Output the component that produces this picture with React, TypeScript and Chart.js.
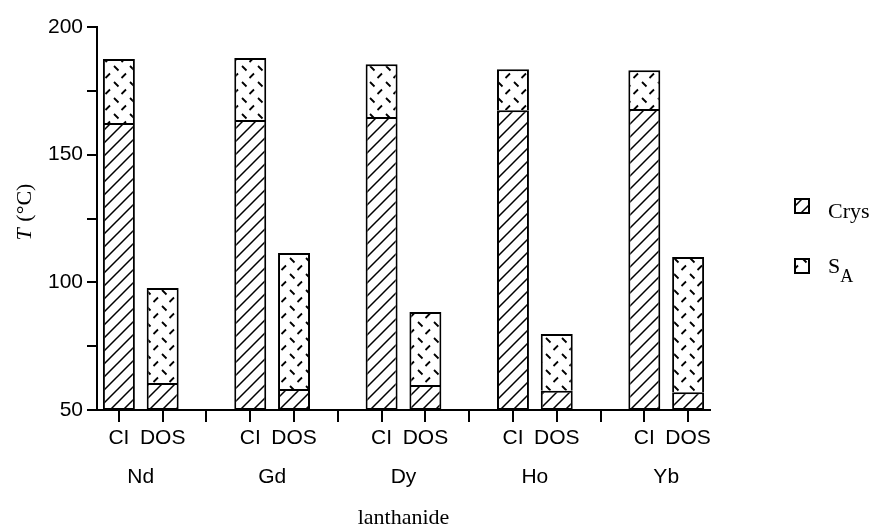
import React, { useEffect, useRef } from 'react';
import { Chart, registerables } from 'chart.js';

Chart.register(...registerables);

// ---- data ----
const lanthanides = ['Nd', 'Gd', 'Dy', 'Ho', 'Yb'];
const methods = ['CI', 'DOS'];
// top of the crystalline (hatched) segment = Crys -> SA transition, °C
const crysCI = [162.4, 163.6, 164.8, 167.4, 167.9];
const crysDOS = [60.6, 58.2, 59.8, 57.5, 57.0];
// top of the smectic A (dashed) segment = clearing point, °C
const saCI = [187.5, 187.9, 185.4, 183.5, 183.1];
const saDOS = [97.8, 111.5, 88.4, 79.8, 109.9];
const yMin = 50;
const yMax = 200;
const yStep = 25;
const yLabelled = [50, 100, 150, 200];
const xTitle = 'lanthanide';

// build the slot layout: CI, DOS, (gap) per lanthanide
const slotLabels: string[] = [];
const crysData: ([number, number] | null)[] = [];
const saData: ([number, number] | null)[] = [];
const groupStart: number[] = [];
lanthanides.forEach((_, i) => {
  groupStart.push(slotLabels.length);
  methods.forEach((m, j) => {
    const c = j === 0 ? crysCI[i] : crysDOS[i];
    const s = j === 0 ? saCI[i] : saDOS[i];
    slotLabels.push(m);
    crysData.push([yMin, c]);
    saData.push([c, s]);
  });
  if (i < lanthanides.length - 1) {
    slotLabels.push('');
    crysData.push(null);
    saData.push(null);
  }
});

function makeHatch(): CanvasPattern | string {
  const c = document.createElement('canvas');
  const n = 13;
  c.width = n;
  c.height = n;
  const g = c.getContext('2d');
  if (!g) return '#fff';
  g.fillStyle = '#fff';
  g.fillRect(0, 0, n, n);
  g.strokeStyle = '#000';
  g.lineWidth = 1.5;
  g.beginPath();
  g.moveTo(-1, n + 1);
  g.lineTo(n + 1, -1);
  g.moveTo(-1, 1);
  g.lineTo(1, -1);
  g.moveTo(n - 1, n + 1);
  g.lineTo(n + 1, n - 1);
  g.stroke();
  return g.createPattern(c, 'repeat') || '#fff';
}

function makeDashes(): CanvasPattern | string {
  const c = document.createElement('canvas');
  const w = 16;
  const h = 16;
  c.width = w;
  c.height = h;
  const g = c.getContext('2d');
  if (!g) return '#fff';
  g.fillStyle = '#fff';
  g.fillRect(0, 0, w, h);
  g.strokeStyle = '#000';
  g.lineWidth = 1.8;
  g.lineCap = 'butt';
  g.beginPath();
  // "\" dash
  g.moveTo(2, 2);
  g.lineTo(6.5, 6.5);
  // "/" dash
  g.moveTo(9.5, 14);
  g.lineTo(14, 9.5);
  g.stroke();
  return g.createPattern(c, 'repeat') || '#fff';
}

const SANS = '"Liberation Sans", Arial, sans-serif';
const SERIF = '"Liberation Serif", "Times New Roman", serif';

export default function App() {
  const ref = useRef<HTMLCanvasElement | null>(null);

  useEffect(() => {
    document.body.style.margin = '0';
    const canvas = ref.current;
    if (!canvas) return;
    const hatch = makeHatch();
    const dashes = makeDashes();

    const textPlugin = {
      id: 'customText',
      afterDraw(chart: any) {
        const { ctx, chartArea, scales } = chart;
        const x = scales.x;
        ctx.save();
        ctx.fillStyle = '#000';
        // group names
        ctx.font = `21px ${SANS}`;
        ctx.textAlign = 'center';
        ctx.textBaseline = 'middle';
        lanthanides.forEach((name, i) => {
          const a = x.getPixelForValue(groupStart[i]);
          const b = x.getPixelForValue(groupStart[i] + 1);
          ctx.fillText(name, (a + b) / 2, chartArea.bottom + 67);
        });
        // x title
        ctx.font = `22px ${SERIF}`;
        ctx.fillText(xTitle, (chartArea.left + chartArea.right) / 2, chartArea.bottom + 108);

        // y title: italic T + (°C)
        ctx.save();
        ctx.translate(31, (chartArea.top + chartArea.bottom) / 2 - 6);
        ctx.rotate(-Math.PI / 2);
        ctx.textAlign = 'left';
        ctx.textBaseline = 'alphabetic';
        const fIt = `italic 22px ${SERIF}`;
        const fRe = `22px ${SERIF}`;
        ctx.font = fIt;
        const wT = ctx.measureText('T').width;
        ctx.font = fRe;
        const rest = ' (\u00B0C)';
        const wR = ctx.measureText(rest).width;
        const start = -(wT + wR) / 2;
        ctx.font = fIt;
        ctx.fillText('T', start, 0);
        ctx.font = fRe;
        ctx.fillText(rest, start + wT + 1, 0);
        ctx.restore();

        // legend
        const lx = chartArea.right + 85;
        const items = [
          { fill: hatch, y: 206, main: 'Crys', sub: '', base: 12 },
          { fill: dashes, y: 266, main: 'S', sub: 'A', base: 7 },
        ];
        items.forEach((it) => {
          const s = 14;
          ctx.fillStyle = it.fill as any;
          ctx.fillRect(lx, it.y - s / 2, s, s);
          ctx.strokeStyle = '#000';
          ctx.lineWidth = 2;
          ctx.strokeRect(lx, it.y - s / 2, s, s);
          ctx.fillStyle = '#000';
          ctx.textAlign = 'left';
          ctx.textBaseline = 'alphabetic';
          ctx.font = `22px ${SERIF}`;
          ctx.fillText(it.main, lx + 33, it.y + it.base);
          if (it.sub) {
            const w = ctx.measureText(it.main).width;
            ctx.font = `18px ${SERIF}`;
            ctx.fillText(it.sub, lx + 33 + w, it.y + it.base + 9);
          }
        });
        ctx.restore();
      },
    };

    const chart = new Chart(canvas, {
      type: 'bar',
      data: {
        labels: slotLabels,
        datasets: [
          {
            label: 'Crys',
            data: crysData as any,
            backgroundColor: hatch as any,
            borderColor: '#000',
            borderWidth: 2,
            borderSkipped: false,
          },
          {
            label: 'SA',
            data: saData as any,
            backgroundColor: dashes as any,
            borderColor: '#000',
            borderWidth: { top: 2, left: 2, right: 2, bottom: 0 } as any,
            borderSkipped: false,
          },
        ],
      },
      options: {
        animation: false,
        responsive: false,
        maintainAspectRatio: false,
        events: [],
        layout: { padding: { top: 27, right: 165, bottom: 0, left: 0 } },
        datasets: {
          bar: { grouped: false, barPercentage: 0.73, categoryPercentage: 1 },
        } as any,
        plugins: {
          legend: { display: false },
          tooltip: { enabled: false },
          title: { display: false },
        },
        scales: {
          x: {
            type: 'category',
            offset: true,
            grid: {
              display: true,
              offset: false,
              drawOnChartArea: false,
              drawTicks: true,
              tickLength: 12,
              color: '#000',
              lineWidth: 2,
            },
            border: { display: true, color: '#000', width: 2 },
            ticks: {
              color: '#000',
              font: { family: SANS, size: 21 },
              padding: 4,
              maxRotation: 0,
              autoSkip: false,
            },
            afterFit(scale: any) {
              scale.height = 122;
            },
          },
          y: {
            type: 'linear',
            min: yMin,
            max: yMax,
            grid: {
              display: true,
              drawOnChartArea: false,
              drawTicks: true,
              tickLength: 10,
              color: '#000',
              lineWidth: 2,
            },
            border: { display: true, color: '#000', width: 2 },
            ticks: {
              stepSize: yStep,
              color: '#000',
              font: { family: SANS, size: 21 },
              padding: 4,
              callback: (v: any) => (yLabelled.includes(Number(v)) ? String(v) : ''),
            },
            afterFit(scale: any) {
              scale.width = 97;
            },
          },
        },
      },
      plugins: [textPlugin],
    });
    return () => chart.destroy();
  }, []);

  return (
    <div style={{ position: 'relative', width: 875, height: 532 }}>
      <canvas ref={ref} width={875} height={532} style={{ display: 'block' }} />
    </div>
  );
}
